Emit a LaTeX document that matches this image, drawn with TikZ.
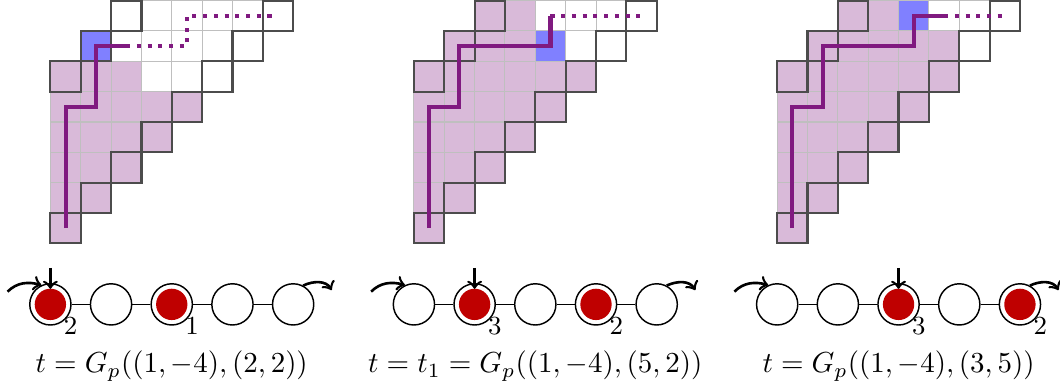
\documentclass[tikz,border=0pt]{standalone}
\usepackage{amsmath,amssymb}
\usepackage{tikz}

\definecolor{walkcol}{RGB}{128,26,128}
\definecolor{tokred}{RGB}{191,0,0}

\begin{document}
\begin{tikzpicture}[x=0.368cm, y=0.368cm, >=to,
  cellline/.style={draw=black!25, line width=0.35pt},
  cellbox/.style={draw=black!70, line width=0.75pt},
  walk/.style={draw=walkcol, line width=1.4pt},
  walkdots/.style={walk, dash pattern=on 1.4pt off 2.3pt},
  site/.style={draw, circle, line width=0.5pt, minimum size=0.5cm, inner sep=0pt, fill=white},
  occ/.style={site, path picture={\fill[tokred] (path picture bounding box.center) circle (0.19cm);}},
  lab/.style={font=\small, inner sep=0pt, label distance=-1pt},
  bond/.style={line width=0.5pt},
  hop/.style={->, line width=0.9pt}]
\useasboundingbox (0,0) rectangle (34.93,-12.79);

% filled cells
\begin{scope}[shift={(1.66,-8.02)}]
\foreach \j/\a/\b in {0/0/0,1/0/1,2/0/2,3/0/3,4/0/4,5/0/2}
  \fill[walkcol!30] (\a,\j) rectangle (\b+1,\j+1);
\fill[blue!50] (1,6) rectangle (2,7);
\end{scope}
\begin{scope}[shift={(13.64,-8.02)}]
\foreach \j/\a/\b in {0/0/0,1/0/1,2/0/2,3/0/3,4/0/4,5/0/5,6/1/3,7/2/3}
  \fill[walkcol!30] (\a,\j) rectangle (\b+1,\j+1);
\fill[blue!50] (4,6) rectangle (5,7);
\end{scope}
\begin{scope}[shift={(25.61,-8.02)}]
\foreach \j/\a/\b in {0/0/0,1/0/1,2/0/2,3/0/3,4/0/4,5/0/5,6/1/5,7/2/3}
  \fill[walkcol!30] (\a,\j) rectangle (\b+1,\j+1);
\fill[blue!50] (4,7) rectangle (5,8);
\end{scope}

% staircase grids
\foreach \px in {1.66,13.64,25.61}{
  \begin{scope}[shift={(\px,-8.02)}]
    \foreach \j in {0,...,7}{
      \pgfmathtruncatemacro{\a}{max(0,\j-5)}
      \foreach \i in {\a,...,\j} \draw[cellline] (\i,\j) rectangle ++(1,1);
    }
    \foreach \i in {0,...,7} \draw[cellbox] (\i,\i) rectangle ++(1,1);
    \foreach \i in {0,1,2} \draw[cellbox] (\i,\i+5) rectangle ++(1,1);
  \end{scope}
}

% walks
\begin{scope}[shift={(1.66,-8.02)}]
\draw[walk] (0.5,0.5) -- (0.5,4.5) -- (1.5,4.5) -- (1.5,6.5) -- (2.5,6.5);
\draw[walkdots] (2.5,6.5) -- (4.5,6.5) -- (4.5,7.5) -- (7.5,7.5);
\end{scope}
\begin{scope}[shift={(13.64,-8.02)}]
\draw[walk] (0.5,0.5) -- (0.5,4.5) -- (1.5,4.5) -- (1.5,6.5) -- (4.5,6.5) -- (4.5,7.5);
\draw[walkdots] (4.5,7.5) -- (7.5,7.5);
\end{scope}
\begin{scope}[shift={(25.61,-8.02)}]
\draw[walk] (0.5,0.5) -- (0.5,4.5) -- (1.5,4.5) -- (1.5,6.5) -- (4.5,6.5) -- (4.5,7.5) -- (5.5,7.5);
\draw[walkdots] (5.5,7.5) -- (7.5,7.5);
\end{scope}

% chain 1
\begin{scope}[shift={(1.66,0)}]
\node[occ, label={[lab]-45:$2$}] (a1) at (0,-10.03) {};
\node[site] (a2) at (2,-10.03) {};
\node[occ, label={[lab]-45:$1$}] (a3) at (4,-10.03) {};
\node[site] (a4) at (6,-10.03) {};
\node[site] (a5) at (8,-10.03) {};
\draw[bond] (a1) -- (a2) -- (a3) -- (a4) -- (a5);
\coordinate (ain) at (-1.41,-9.61);
\coordinate (aout) at (9.27,-9.56);
\coordinate (adrop) at (0,-8.83);
\draw[hop] (ain) to[out=45,in=165] (a1.115);
\draw[hop] (a5.62) to[out=25,in=120] (aout);
\draw[hop, shorten >=-2pt] (adrop) -- (a1.north);
\node (alab) at (4,-12.06) {$t=G_p((1,-4),(2,2))$};
\end{scope}

% chain 2
\begin{scope}[shift={(13.64,0)}]
\node[site] (b1) at (0,-10.03) {};
\node[occ, label={[lab]-45:$3$}] (b2) at (2,-10.03) {};
\node[site] (b3) at (4,-10.03) {};
\node[occ, label={[lab]-45:$2$}] (b4) at (6,-10.03) {};
\node[site] (b5) at (8,-10.03) {};
\draw[bond] (b1) -- (b2) -- (b3) -- (b4) -- (b5);
\coordinate (bin) at (-1.41,-9.61);
\coordinate (bout) at (9.27,-9.56);
\coordinate (bdrop) at (2,-8.83);
\draw[hop] (bin) to[out=45,in=165] (b1.115);
\draw[hop] (b5.62) to[out=25,in=120] (bout);
\draw[hop, shorten >=-2pt] (bdrop) -- (b2.north);
\node (blab) at (4,-12.06) {$t=t_1=G_p((1,-4),(5,2))$};
\end{scope}

% chain 3
\begin{scope}[shift={(25.61,0)}]
\node[site] (c1) at (0,-10.03) {};
\node[site] (c2) at (2,-10.03) {};
\node[occ, label={[lab]-45:$3$}] (c3) at (4,-10.03) {};
\node[site] (c4) at (6,-10.03) {};
\node[occ, label={[lab]-45:$2$}] (c5) at (8,-10.03) {};
\draw[bond] (c1) -- (c2) -- (c3) -- (c4) -- (c5);
\coordinate (cin) at (-1.41,-9.61);
\coordinate (cout) at (9.27,-9.56);
\coordinate (cdrop) at (4,-8.83);
\draw[hop] (cin) to[out=45,in=165] (c1.115);
\draw[hop] (c5.62) to[out=25,in=120] (cout);
\draw[hop, shorten >=-2pt] (cdrop) -- (c3.north);
\node (clab) at (4,-12.06) {$t=G_p((1,-4),(3,5))$};
\end{scope}
\end{tikzpicture}
\end{document}
